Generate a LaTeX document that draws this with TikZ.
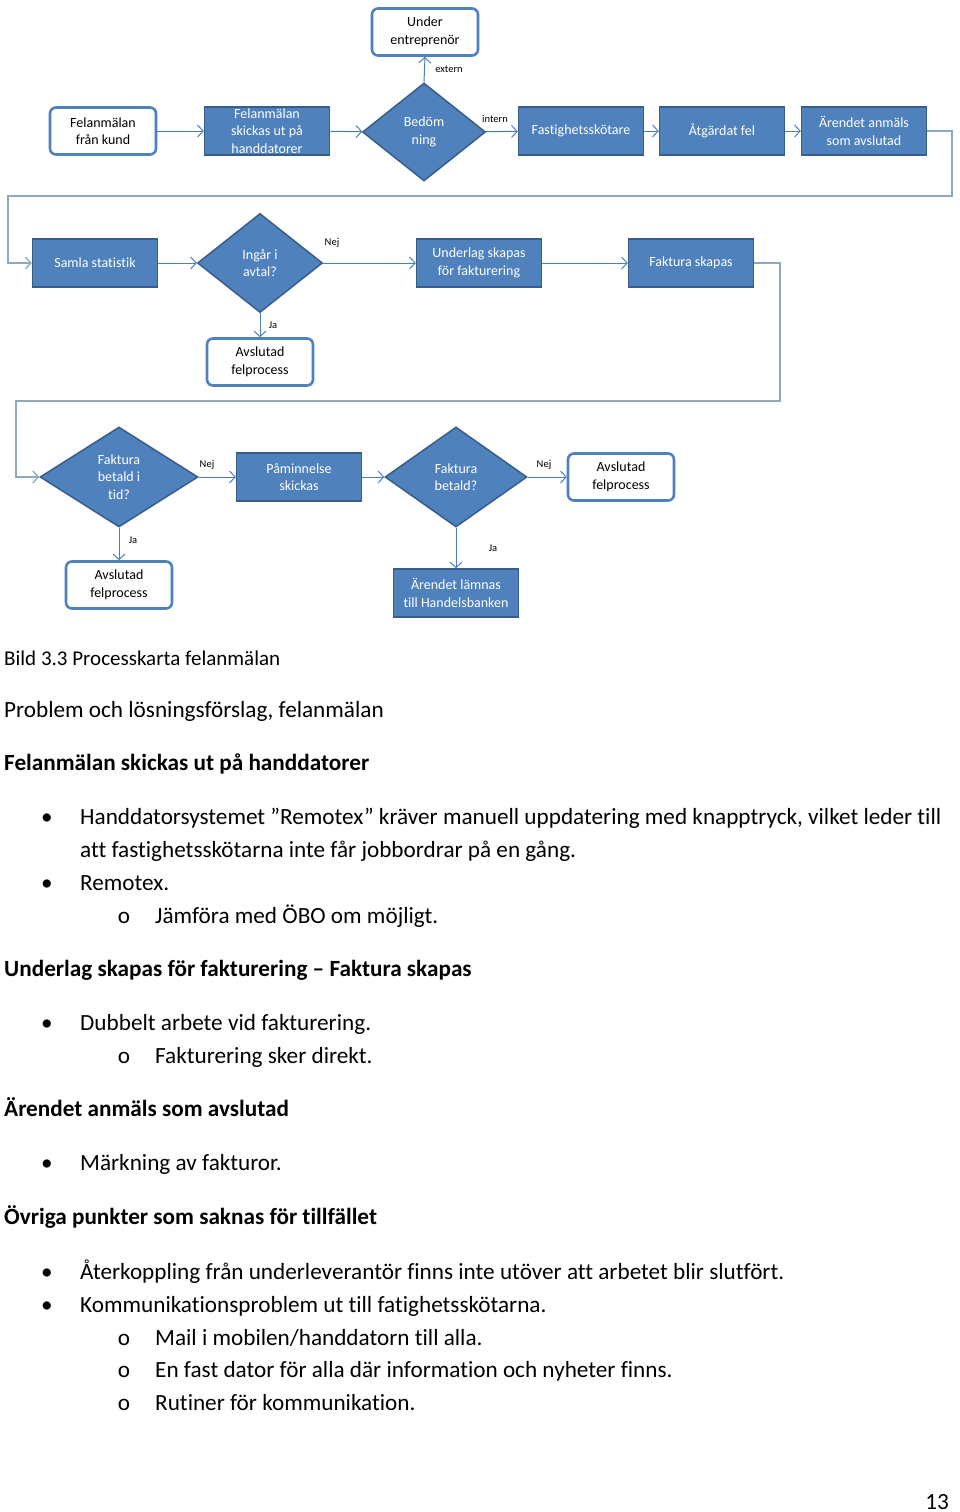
\documentclass[tikz,border=0pt]{standalone}
\usepackage{fontspec}
\setmainfont[Ligatures=NoCommon]{Carlito}
\usetikzlibrary{shapes.geometric,arrows.meta}

\definecolor{boxblue}{HTML}{4F81BD}
\definecolor{boxedge}{HTML}{385D8A}
\definecolor{pilblue}{HTML}{4A7EBB}
\definecolor{slingagray}{HTML}{8EA8BE}

\newcommand\rutfont{\fontsize{14}{17.5}\selectfont}
\newcommand\etikettfont{\fontsize{10.5}{12}\selectfont}
\newcommand\brodfont{\fontsize{23.2}{28}\selectfont}
\newcommand\bildfont{\fontsize{21}{26}\selectfont}

\tikzset{
  proc/.style={draw=boxedge, line width=1.5pt, fill=boxblue, text=white, minimum width=125pt, minimum height=48pt, align=center, inner sep=1pt, font=\rutfont},
  slut/.style={draw=boxblue, line width=2.6pt, fill=white, rounded corners=6pt, minimum width=106pt, minimum height=47pt, align=center, inner sep=1pt, font=\rutfont},
  beslut/.style={diamond, draw=boxedge, line width=1.5pt, fill=boxblue, text=white, align=center, inner sep=0pt, font=\rutfont},
  pil/.style={draw=pilblue, line width=1pt, -{Straight Barb[length=5.5pt,width=12pt]}},
  slinga/.style={draw=slingagray, line width=1.3pt},
  etikett/.style={inner sep=0pt, font=\etikettfont},
  brod/.style={anchor=base west, inner sep=0pt, font=\brodfont},
  punkt/.style={anchor=base, inner sep=0pt, font=\brodfont}
}

\begin{document}
\begin{tikzpicture}[x=1pt,y=-1pt]
\fill[white] (0,0) rectangle (960,1512);
\useasboundingbox (0,0) rectangle (960,1512);

% rad 1
\node[slut] (kund) at (103,131) {Felanmälan\\från kund};
\node[proc] (hand) at (267,131) {Felanmälan\\skickas ut på\\handdatorer};
\node[beslut, minimum width=123pt, minimum height=98pt] (bedom) at (424,132) {Bedöm\\ning};
\node[slut] (under) at (425,32) {Under\\entreprenör};
\node[proc] (fast) at (581,131) {Fastighetsskötare};
\node[proc] (atg) at (722,131) {Åtgärdat fel};
\node[proc] (arende) at (864,131) {Ärendet anmäls\\som avslutad};
\node[etikett] (extern) at (449,69) {extern};
\node[etikett] (intern) at (495,119) {intern};

\path[pil] (kund) -- (hand);
\path[pil] (hand) -- (bedom);
\path[pil] (bedom) -- (fast);
\path[pil] (bedom.north) -- (under.south);
\path[pil] (fast) -- (atg);
\path[pil] (atg) -- (arende);

% rad 2
\node[proc] (samla) at (95,263) {Samla statistik};
\node[beslut, minimum width=125pt, minimum height=99pt] (ingar) at (260,263) {Ingår i\\avtal?};
\node[proc] (underlag) at (479,263) {Underlag skapas\\för fakturering};
\node[proc] (faktura) at (691,263) {Faktura skapas};
\node[slut] (avslut1) at (260,362) {Avslutad\\felprocess};
\node[etikett] (nej1) at (332,243) {Nej};
\node[etikett] (ja1) at (273,325) {Ja};

\coordinate (s1a) at (952,196);
\coordinate (s1b) at (8,196);
\path[slinga, -{Straight Barb[length=5.5pt,width=12pt]}] (arende.east) -| (s1a) -- (s1b) |- (samla.west);

\path[pil] (samla) -- (ingar);
\path[pil] (ingar) -- (underlag);
\path[pil] (ingar.south) -- (avslut1.north);
\path[pil] (underlag) -- (faktura);

% rad 3
\node[beslut, minimum width=158pt, minimum height=100pt] (betaldtid) at (119,477) {Faktura\\betald i\\tid?};
\node[proc] (paminn) at (299,477) {Påminnelse\\skickas};
\node[beslut, minimum width=142pt, minimum height=100pt] (betald) at (456,477) {Faktura\\betald?};
\node[slut] (avslut3) at (621,477) {Avslutad\\felprocess};
\node[slut] (avslut2) at (119,585) {Avslutad\\felprocess};
\node[proc] (lamnas) at (456,593) {Ärendet lämnas\\till Handelsbanken};
\node[etikett] (nej2) at (207,465) {Nej};
\node[etikett] (nej3) at (544,465) {Nej};
\node[etikett] (ja2) at (133,540) {Ja};
\node[etikett] (ja3) at (493,548) {Ja};

\coordinate (s2a) at (780,401);
\coordinate (s2b) at (16,401);
\path[slinga, -{Straight Barb[length=5.5pt,width=12pt]}] (faktura.east) -| (s2a) -- (s2b) |- (betaldtid.west);

\path[pil] (betaldtid) -- (paminn);
\path[pil] (paminn) -- (betald);
\path[pil] (betald) -- (avslut3);
\path[pil] (betaldtid.south) -- (avslut2.north);
\path[pil] (betald.south) -- (lamnas.north);

% text under bilden
\node[brod, font=\bildfont] (bild) at (4,665) {Bild 3.3 Processkarta felanmälan};
\node[brod] (problem) at (4,717) {Problem och lösningsförslag, felanmälan};
\node[brod, font=\brodfont\bfseries] (rubrik1) at (4,770) {Felanmälan skickas ut på handdatorer};
\node[punkt] (p1) at (47,824) {•};
\node[brod] (t1) at (80,824) {Handdatorsystemet ”Remotex” kräver manuell uppdatering med knapptryck, vilket leder till};
\node[brod] (t1b) at (80,857) {att fastighetsskötarna inte får jobbordrar på en gång.};
\node[punkt] (p2) at (47,890) {•};
\node[brod] (t2) at (80,890) {Remotex.};
\node[punkt] (o1) at (124,923) {o};
\node[brod] (t3) at (155,923) {Jämföra med ÖBO om möjligt.};

\node[brod, font=\brodfont\bfseries] (rubrik2) at (4,976) {Underlag skapas för fakturering – Faktura skapas};
\node[punkt] (p3) at (47,1030) {•};
\node[brod] (t4) at (80,1030) {Dubbelt arbete vid fakturering.};
\node[punkt] (o2) at (124,1063) {o};
\node[brod] (t5) at (155,1063) {Fakturering sker direkt.};

\node[brod, font=\brodfont\bfseries] (rubrik3) at (4,1116) {Ärendet anmäls som avslutad};
\node[punkt] (p4) at (47,1170) {•};
\node[brod] (t6) at (80,1170) {Märkning av fakturor.};

\node[brod, font=\brodfont\bfseries] (rubrik4) at (4,1224) {Övriga punkter som saknas för tillfället};
\node[punkt] (p5) at (47,1279) {•};
\node[brod] (t7) at (80,1279) {Återkoppling från underleverantör finns inte utöver att arbetet blir slutfört.};
\node[punkt] (p6) at (47,1312) {•};
\node[brod] (t8) at (80,1312) {Kommunikationsproblem ut till fatighetsskötarna.};
\node[punkt] (o3) at (124,1345) {o};
\node[brod] (t9) at (155,1345) {Mail i mobilen/handdatorn till alla.};
\node[punkt] (o4) at (124,1377) {o};
\node[brod] (t10) at (155,1377) {En fast dator för alla där information och nyheter finns.};
\node[punkt] (o5) at (124,1410) {o};
\node[brod] (t11) at (155,1410) {Rutiner för kommunikation.};

\node[anchor=base east, inner sep=0pt, font=\brodfont] (sida) at (949,1509) {13};
\end{tikzpicture}
\end{document}
